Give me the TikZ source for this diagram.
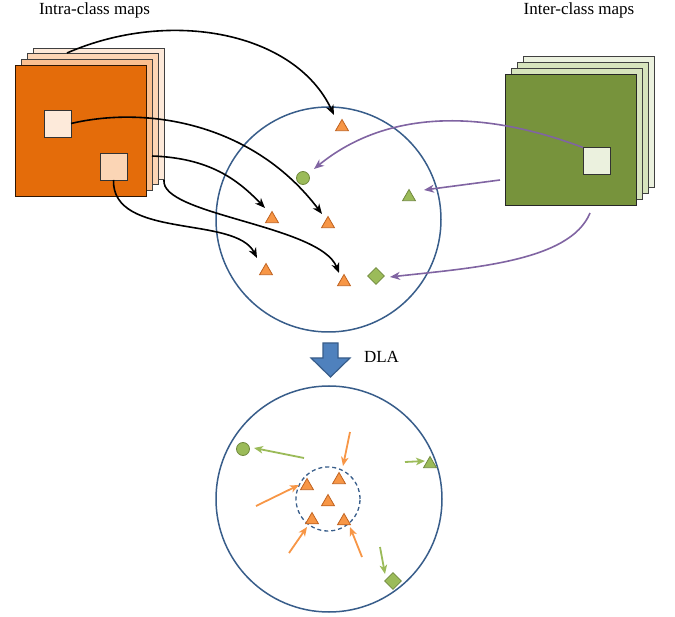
\documentclass[tikz,border=0pt]{standalone}
\usepackage{fontspec}
\setmainfont{Liberation Serif}
\usetikzlibrary{shapes.geometric,arrows.meta}
\definecolor{orgmain}{HTML}{E46C0A}
\definecolor{orgA}{HTML}{FAC090}
\definecolor{orgB}{HTML}{FCD5B5}
\definecolor{orgC}{HTML}{FDE9D9}
\definecolor{sqA}{HTML}{FDEADA}
\definecolor{sqB}{HTML}{FBD5B5}
\definecolor{grnmain}{HTML}{77933C}
\definecolor{grnA}{HTML}{D7E4BD}
\definecolor{grnB}{HTML}{EBF1DE}
\definecolor{ptorange}{HTML}{F79646}
\definecolor{ptorangeD}{HTML}{C0621F}
\definecolor{ptgreen}{HTML}{9BBB59}
\definecolor{ptgreenD}{HTML}{71893F}
\definecolor{purp}{HTML}{8064A2}
\definecolor{circblue}{HTML}{385D8A}
\definecolor{arrblue}{HTML}{4F81BD}
\begin{document}
\begin{tikzpicture}[x=1pt,y=-1pt,
  lbl/.style={font=\fontsize{17}{20}\selectfont, inner sep=0pt},
  layer/.style={draw=black!75, line width=0.9pt, minimum width=131pt, minimum height=131pt, inner sep=0pt, outer sep=0pt},
  patch/.style={draw=black!80, line width=0.9pt, minimum size=27pt, inner sep=0pt, outer sep=0pt},
  space/.style={circle, draw=circblue, line width=1.5pt, inner sep=0pt},
  otri/.style={regular polygon, regular polygon sides=3, minimum size=15pt, inner sep=0pt, fill=ptorange, draw=ptorangeD, line width=0.8pt},
  gtri/.style={regular polygon, regular polygon sides=3, minimum size=15pt, inner sep=0pt, fill=ptgreen, draw=ptgreenD, line width=0.8pt},
  gcirc/.style={circle, minimum size=13pt, inner sep=0pt, fill=ptgreen, draw=ptgreenD, line width=0.8pt},
  gdia/.style={diamond, minimum size=17pt, inner sep=0pt, fill=ptgreen, draw=ptgreenD, line width=0.8pt},
  blk/.style={draw=black, line width=1.6pt, -{Stealth[length=10pt,width=8pt,inset=3pt]}},
  prp/.style={draw=purp, line width=1.6pt, -{Stealth[length=10pt,width=8pt,inset=3pt]}},
  oarr/.style={draw=ptorange, line width=1.8pt, -{Stealth[length=9pt,width=7.5pt,inset=2.5pt]}},
  garr/.style={draw=ptgreen, line width=1.8pt, -{Stealth[length=9pt,width=7.5pt,inset=2.5pt]}}
]
\useasboundingbox (0,0) rectangle (675,617);

% titles
\node[lbl] (t1) at (94.5,10) {Intra-class maps};
\node[lbl] (t2) at (579,10) {Inter-class maps};

% intra-class stack
\node[layer, fill=orgC] (o3) at (98.5,113.5) {};
\node[layer, fill=orgB] (o2) at (92.5,119) {};
\node[layer, fill=orgA] (o1) at (86.5,124.5) {};
\node[layer, fill=orgmain, draw=black!80!orgmain] (o0) at (80.5,131) {};
\node[patch, fill=sqA] (s1) at (57.5,123.5) {};
\node[patch, fill=sqB] (s2) at (113.5,166.5) {};

% inter-class stack
\node[layer, fill=grnB] (g3) at (588.5,121.5) {};
\node[layer, fill=grnA] (g2) at (582.5,128) {};
\node[layer, fill=grnA] (g1) at (576.5,134) {};
\node[layer, fill=grnmain, draw=black!85] (g0) at (571,139.5) {};
\node[patch, fill=grnB] (gw) at (596.5,161) {};

% upper feature space
\node[space, minimum size=225pt] (U) at (328.5,219.5) {};
\node[otri] (u1) at (342,127) {};
\node[gcirc] (uc) at (303,178) {};
\node[gtri] (ug) at (409,197) {};
\node[otri] (u2) at (272,219) {};
\node[otri] (u3) at (328,224) {};
\node[otri] (u4) at (266,271) {};
\node[otri] (u5) at (344,282) {};
\node[gdia] (ud) at (376,276) {};

% arrow start points
\coordinate (a1s) at (67,53);
\coordinate (a3s) at (152,156);
\coordinate (a4s) at (164,180);
\coordinate (p2s) at (500,180);
\coordinate (p3s) at (590,213);
\coordinate (a1e) at (334,115);
\coordinate (a2e) at (322,214);
\coordinate (a3e) at (265,208);
\coordinate (a4e) at (339,273);
\coordinate (a5e) at (257,258);
\coordinate (p1e) at (314,169);
\coordinate (p2e) at (424,190);
\coordinate (p3e) at (390,277);

\draw[blk] (a1s) .. controls (170,8) and (295,32) .. (a1e);
\draw[blk] (s1.east) .. controls (150,105) and (255,125) .. (a2e);
\draw[blk] (a3s) .. controls (210,158) and (238,180) .. (a3e);
\draw[blk] (a4s) .. controls (160,215) and (320,225) .. (a4e);
\draw[blk] (s2.south) .. controls (112,240) and (235,215) .. (a5e);

\draw[prp] (gw.north west) .. controls (470,105) and (380,115) .. (p1e);
\draw[prp] (p2s) -- (p2e);
\draw[prp] (p3s) .. controls (570,262) and (470,268) .. (p3e);

% DLA arrow
\draw[fill=arrblue, draw=circblue, line width=1.2pt]
  (323,343) -- (338,343) -- (338,358) -- (350,358) -- (330.5,377) -- (311,358) -- (323,358) -- cycle;
\node[lbl] (dla) at (381.5,357) {DLA};

% lower feature space
\node[space, minimum size=226pt] (L) at (329,499) {};
\node[circle, draw=circblue, line width=1.3pt, dashed, dash pattern=on 4pt off 3pt, minimum size=64pt, inner sep=0pt] (Li) at (328,499) {};
\node[gcirc] (lc) at (243,449) {};
\node[gtri] (lg) at (430,464) {};
\node[gdia] (ld) at (393,581) {};
\node[otri] (l1) at (307,486) {};
\node[otri] (l2) at (339,480) {};
\node[otri] (l3) at (328,502) {};
\node[otri] (l4) at (312,520) {};
\node[otri] (l5) at (344,521) {};

\coordinate (g1s) at (304,458);
\coordinate (g1e) at (254,448);
\coordinate (g2s) at (405,462);
\coordinate (g2e) at (425,461);
\coordinate (g3s) at (380,547);
\coordinate (g3e) at (385,574);
\coordinate (o1s) at (350,432);
\coordinate (o1e) at (343,466);
\coordinate (o2s) at (256,506);
\coordinate (o2e) at (299,485);
\coordinate (o3s) at (289,553);
\coordinate (o3e) at (307,527);
\coordinate (o4s) at (362,557);
\coordinate (o4e) at (350,527);

\draw[garr] (g1s) -- (g1e);
\draw[garr] (g2s) -- (g2e);
\draw[garr] (g3s) -- (g3e);
\draw[oarr] (o1s) -- (o1e);
\draw[oarr] (o2s) -- (o2e);
\draw[oarr] (o3s) -- (o3e);
\draw[oarr] (o4s) -- (o4e);
\end{tikzpicture}
\end{document}
